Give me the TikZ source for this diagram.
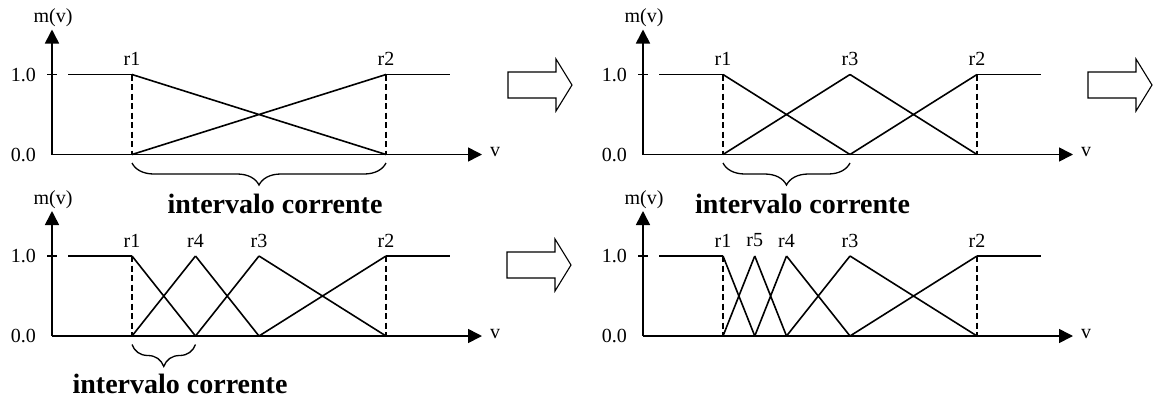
\documentclass[tikz,border=0pt]{standalone}
\usepackage{fontspec}
\setmainfont{Liberation Serif}
\usetikzlibrary{arrows.meta,decorations.pathreplacing,positioning}

\tikzset{
  axis/.style={-{Triangle[length=14pt,width=14pt]},line width=1.6pt},
  mf/.style={line width=1.6pt},
  drop/.style={line width=2pt,dash pattern=on 6pt off 3.5pt},
  lbl/.style={font=\fontsize{20}{22}\selectfont,inner sep=0pt},
  intv/.style={font=\fontsize{28}{30}\selectfont\bfseries,inner sep=0pt,anchor=base},
  curbrace/.style={decorate,decoration={brace,mirror,amplitude=22pt},line width=1.3pt},
  % common frame of one stage: axes, levels, r1 and r2
  mfpanel/.pic={
    \draw[axis] (0,0) -- (0,-125);
    \draw[axis] (0,0) -- (430,0);
    \node[lbl] (-my) at (1,-136.5) {m(v)};
    \node[lbl] (-v) at (443,-2) {v};
    \node[lbl,anchor=east] (-one) at (-16,-80) {1.0};
    \node[lbl,anchor=east] (-zero) at (-16,0) {0.0};
    \draw[mf] (-5,-80) -- (5,-80);
    \draw[mf] (16,-80) -- (80,-80);
    \draw[mf] (334,-80) -- (398,-80);
    \draw[drop] (80,-80) -- (80,0);
    \draw[drop] (334,-80) -- (334,0);
  },
  bigarrow/.pic={
    \draw[line width=1.1pt] (0,-13) -- (48,-13) -- (48,-26) -- (64,0)
      -- (48,26) -- (48,13) -- (0,13) -- cycle;
  }
}

\begin{document}
\begin{tikzpicture}[x=1pt,y=-1pt]
  \useasboundingbox (0,0) rectangle (1159,400);
  % stage 1
  \begin{scope}[shift={(52,154.5)}]
    \pic (s1) at (0,0) {mfpanel};
    \foreach \a/\b in {80/334}
      \draw[mf] (\a,-80) -- (\b,0) (\a,0) -- (\b,-80);
    \foreach \x/\r in {80/r1,334/r2}
      \node[lbl] (s1\r) at (\x,-95.5) {\r};
    \draw[curbrace] (80,8.5) -- (334,8.5);
    \node[intv] (s1int) at (223,58.5) {intervalo corrente};
  \end{scope}
  % stage 2
  \begin{scope}[shift={(643,154.5)}]
    \pic (s2) at (0,0) {mfpanel};
    \foreach \a/\b in {80/207,207/334}
      \draw[mf] (\a,-80) -- (\b,0) (\a,0) -- (\b,-80);
    \foreach \x/\r in {80/r1,207/r3,334/r2}
      \node[lbl] (s2\r) at (\x,-95.5) {\r};
    \draw[curbrace] (80,8.5) -- (207,8.5);
    \node[intv] (s2int) at (159.5,58.5) {intervalo corrente};
  \end{scope}
  % stage 3
  \begin{scope}[shift={(52,336)}]
    \pic (s3) at (0,0) {mfpanel};
    \foreach \a/\b in {80/143.5,143.5/207,207/334}
      \draw[mf] (\a,-80) -- (\b,0) (\a,0) -- (\b,-80);
    \foreach \x/\r in {80/r1,143.5/r4,207/r3,334/r2}
      \node[lbl] (s3\r) at (\x,-95.5) {\r};
    \draw[curbrace] (80,8.5) -- (143.5,8.5);
    \node[intv] (s3int) at (128,57) {intervalo corrente};
  \end{scope}
  % stage 4
  \begin{scope}[shift={(643,336)}]
    \pic (s4) at (0,0) {mfpanel};
    \foreach \a/\b in {80/111.75,111.75/143.5,143.5/207,207/334}
      \draw[mf] (\a,-80) -- (\b,0) (\a,0) -- (\b,-80);
    \foreach \x/\r in {80/r1,111.75/r5,143.5/r4,207/r3,334/r2}
      \node[lbl] (s4\r) at (\x,-95.5) {\r};
  \end{scope}
  % refinement steps
  \pic at (508,85) {bigarrow};
  \pic at (1088,85) {bigarrow};
  \pic at (507,265) {bigarrow};
\end{tikzpicture}
\end{document}
